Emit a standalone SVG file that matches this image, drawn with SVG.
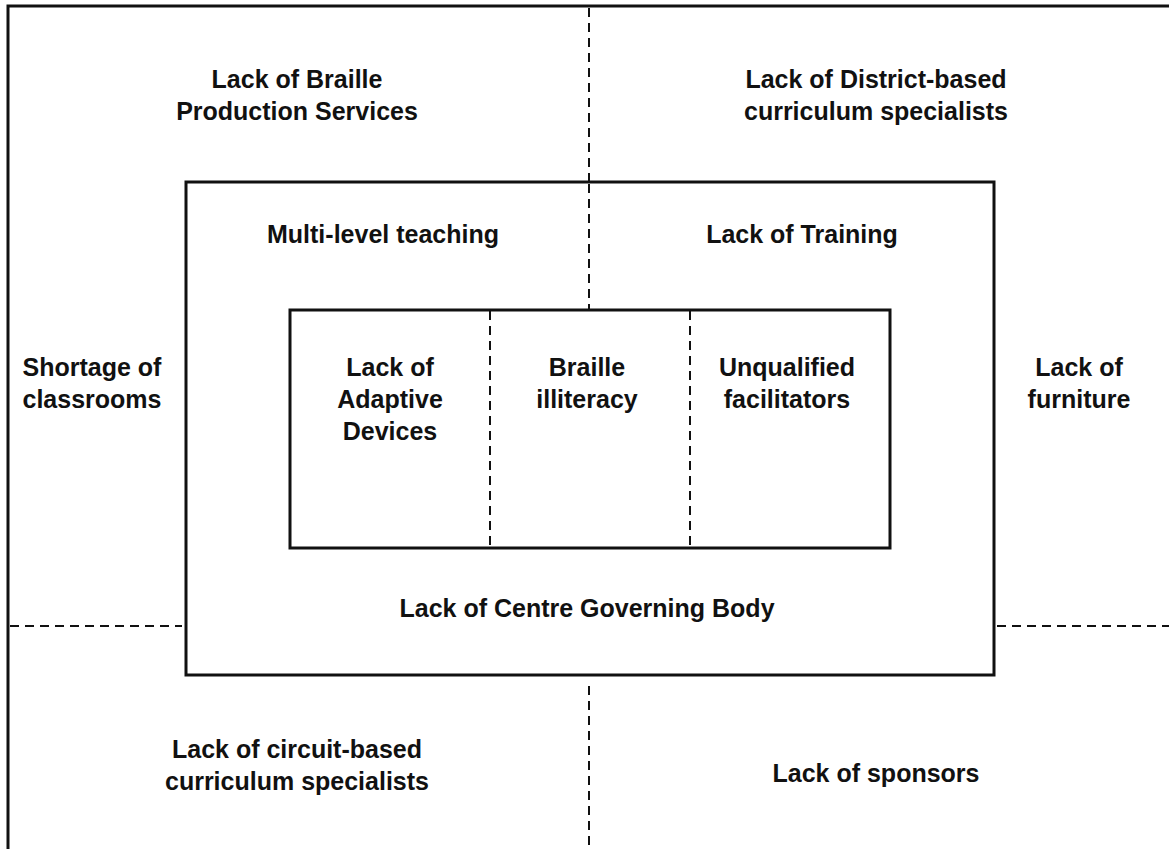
<svg xmlns="http://www.w3.org/2000/svg" width="1169" height="849" viewBox="0 0 1169 849">
<style>
.t{font-family:"Liberation Sans",Arial,sans-serif;font-weight:bold;font-size:25px;fill:#111;text-anchor:middle}
.box{fill:none;stroke:#111;stroke-width:3}
.dash{fill:none;stroke:#111;stroke-width:2;stroke-dasharray:9 6}
</style>
<rect width="1169" height="849" fill="#fff"/>
<g id="frame">
<path d="M8,849 V6 H1169" class="box"/>
</g>
<g id="connectors">
<line x1="589" y1="8" x2="589" y2="182" class="dash"/>
<line x1="589" y1="184" x2="589" y2="309" class="dash"/>
<line x1="589" y1="686" x2="589" y2="849" class="dash"/>
<line x1="10" y1="626" x2="182" y2="626" class="dash"/>
<line x1="997" y1="626" x2="1169" y2="626" class="dash"/>
<line x1="490" y1="311" x2="490" y2="547" class="dash"/>
<line x1="690" y1="311" x2="690" y2="547" class="dash"/>
</g>
<g id="middle-box">
<rect x="186" y="182" width="808" height="493" class="box"/>
</g>
<g id="inner-box">
<rect x="290" y="310" width="600" height="238" class="box"/>
</g>
<g id="braille-production">
<text class="t" x="297" y="88">Lack of Braille</text>
<text class="t" x="297" y="120">Production Services</text>
</g>
<g id="district-specialists">
<text class="t" x="876" y="88">Lack of District-based</text>
<text class="t" x="876" y="120">curriculum specialists</text>
</g>
<g id="multi-level">
<text class="t" x="383" y="243">Multi-level teaching</text>
</g>
<g id="training">
<text class="t" x="802" y="243">Lack of Training</text>
</g>
<g id="classrooms">
<text class="t" x="92" y="376">Shortage of</text>
<text class="t" x="92" y="408">classrooms</text>
</g>
<g id="furniture">
<text class="t" x="1079" y="376">Lack of</text>
<text class="t" x="1079" y="408">furniture</text>
</g>
<g id="adaptive-devices">
<text class="t" x="390" y="376">Lack of</text>
<text class="t" x="390" y="408">Adaptive</text>
<text class="t" x="390" y="440">Devices</text>
</g>
<g id="braille-illiteracy">
<text class="t" x="587" y="376">Braille</text>
<text class="t" x="587" y="408">illiteracy</text>
</g>
<g id="unqualified">
<text class="t" x="787" y="376">Unqualified</text>
<text class="t" x="787" y="408">facilitators</text>
</g>
<g id="governing-body">
<text class="t" x="587" y="617">Lack of Centre Governing Body</text>
</g>
<g id="circuit-specialists">
<text class="t" x="297" y="758">Lack of circuit-based</text>
<text class="t" x="297" y="790">curriculum specialists</text>
</g>
<g id="sponsors">
<text class="t" x="876" y="782">Lack of sponsors</text>
</g>
</svg>
